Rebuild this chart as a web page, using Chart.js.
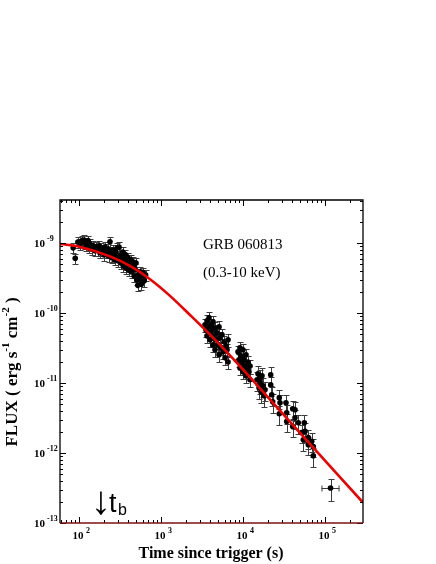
<!DOCTYPE html>
<html>
<head>
<meta charset="utf-8">
<script src="https://cdn.jsdelivr.net/npm/chart.js@4.4.1/dist/chart.umd.min.js"></script>
<style>
  html, body { margin: 0; padding: 0; background: #fff; }
  canvas { display: block; }
</style>
</head>
<body>
<canvas id="lc" width="436" height="564"></canvas>
<script>
// early steep-ish plateau (s, erg s^-1 cm^-2)
const earlyTime = [85, 90, 97, 103, 109, 115, 118, 122, 129, 132, 136, 144, 148, 157, 161,
  170, 175, 180, 186, 196, 202, 208, 214, 226, 232, 239, 245, 252, 258, 265, 272, 279, 286,
  293, 300, 308, 316, 324, 332, 340, 349, 358, 367, 376, 386, 396, 406, 416, 427, 438, 449,
  460, 472, 484, 496, 508, 521, 534, 548, 562, 576, 590, 605, 625, 650];
const earlyFlux = [8.6e-10, 6.1e-10, 10.4e-10, 9.8e-10, 10.9e-10, 11.1e-10, 10.1e-10, 9.2e-10,
  10.9e-10, 8.6e-10, 9.8e-10, 8.3e-10, 9.3e-10, 7.8e-10, 8.9e-10, 8.0e-10, 9.2e-10, 7.3e-10,
  8.6e-10, 8.0e-10, 6.8e-10, 8.9e-10, 7.5e-10, 8.3e-10, 6.6e-10, 10.5e-10, 7.5e-10, 6.2e-10,
  8.0e-10, 6.8e-10, 5.8e-10, 7.5e-10, 6.4e-10, 8.6e-10, 5.6e-10, 8.8e-10, 6.6e-10, 5.2e-10,
  6.2e-10, 7.5e-10, 4.7e-10, 5.8e-10, 6.9e-10, 4.4e-10, 5.4e-10, 6.2e-10, 4.1e-10, 5.0e-10,
  5.8e-10, 3.9e-10, 4.7e-10, 5.4e-10, 3.4e-10, 4.3e-10, 5.2e-10, 3.0e-10, 2.5e-10, 3.6e-10,
  3.1e-10, 3.9e-10, 2.6e-10, 3.4e-10, 3.8e-10, 2.9e-10, 3.5e-10];

// second and third orbit
const midTime = [3441, 3539, 3640, 3640, 3744, 3851, 3961, 3961, 4074, 4190, 4309, 4309, 4432,
  4559, 4559, 4689, 4822, 4960, 5101, 5101, 5247, 5397, 5550, 5709, 5872, 6039, 6211, 6388,
  6571, 6571,
  8690, 8937, 9192, 9192, 9454, 9723, 10000, 10000, 10285, 10578, 10880, 10880, 11190, 11509,
  11837, 12174, 12174];
const midFlux = [6.81e-11, 5.77e-11, 7.77e-11, 4.74e-11, 6.37e-11, 8.57e-11, 5.23e-11, 4.16e-11,
  6.81e-11, 5.77e-11, 7.52e-11, 3.52e-11, 4.74e-11, 6.17e-11, 2.99e-11, 4.16e-11, 5.23e-11,
  3.52e-11, 6.37e-11, 2.54e-11, 4.44e-11, 3.19e-11, 4.90e-11, 2.80e-11, 3.89e-11, 2.30e-11,
  3.41e-11, 2.99e-11, 2.01e-11, 4.16e-11,
  2.80e-11, 2.16e-11, 3.19e-11, 1.65e-11, 2.46e-11, 1.95e-11, 2.99e-11, 1.45e-11, 2.16e-11,
  1.76e-11, 2.54e-11, 1.27e-11, 1.65e-11, 2.01e-11, 1.45e-11, 1.12e-11, 1.76e-11];

// late decay
const lateTime = [14818, 15240, 15675, 16122, 16122, 16582, 17055, 17541, 18041, 18556, 21770,
  21770, 22390, 23030, 27720, 28270, 27720, 33440, 34100, 34100, 40380, 43070, 43070, 40380,
  47250, 51980, 55910, 57030, 54360, 62570, 62570, 68830, 71990, 71990];
const lateFlux = [1.12e-11, 1.36e-11, 8.57e-12, 1.19e-11, 1.01e-11, 7.51e-12, 1.27e-11, 9.15e-12,
  6.59e-12, 8.02e-12, 1.32e-11, 9.46e-12, 6.81e-12, 5.41e-12, 6.17e-12, 5.23e-12, 3.64e-12,
  5.23e-12, 3.77e-12, 2.83e-12, 4.30e-12, 4.16e-12, 3.19e-12, 2.40e-12, 2.71e-12, 1.97e-12,
  2.71e-12, 2.04e-12, 1.55e-12, 1.66e-12, 1.32e-12, 1.47e-12, 1.24e-12, 9.15e-13];

// last binned point with its time range
const lastTime = [116700];
const lastFlux = [3.16e-13];
const lastTimeRange = [90600, 150300];

// relative flux errors: early, mid, late, last
const errFrac = [0.17, 0.22, 0.3, 0.35];

// broken power-law fit
const fitTime = [58.7, 103, 239, 419, 735, 1288, 2260, 3963, 6936, 16100, 49500, 290600];
const fitFlux = [9.77e-10, 8.87e-10, 6.5e-10, 4.74e-10, 3.06e-10, 1.77e-10, 9.42e-11, 4.93e-11,
  2.49e-11, 8.41e-12, 1.95e-12, 1.96e-13];

const xTickExp = [2, 3, 4, 5];
const yTickExp = [-13, -12, -11, -10, -9];

const pts = (ts, fs, e) => ts.map((t, i) => ({ x: t, y: fs[i], e }));
const points = [
  ...pts(earlyTime, earlyFlux, errFrac[0]),
  ...pts(midTime, midFlux, errFrac[1]),
  ...pts(lateTime, lateFlux, errFrac[2]),
  { x: lastTime[0], y: lastFlux[0], e: errFrac[3], xlo: lastTimeRange[0], xhi: lastTimeRange[1] },
];
const fit = fitTime.map((t, i) => ({ x: t, y: fitFlux[i] }));

const SERIF = '"Liberation Serif", "Times New Roman", serif';
const SANS = '"Liberation Sans", Arial, sans-serif';

const errorBars = {
  id: "errorBars",
  beforeDatasetsDraw(chart) {
    const { ctx, scales: { x, y } } = chart;
    ctx.save();
    ctx.strokeStyle = "#3c3c3c";
    ctx.lineWidth = 1;
    ctx.beginPath();
    points.forEach((p) => {
      const px = Math.round(x.getPixelForValue(p.x)) + 0.5;
      const py = y.getPixelForValue(p.y);
      const top = Math.round(y.getPixelForValue(p.y * (1 + p.e))) + 0.5;
      const bot = Math.round(y.getPixelForValue(p.y * (1 - p.e))) + 0.5;
      ctx.moveTo(px, top); ctx.lineTo(px, bot);
      ctx.moveTo(px - 3, top); ctx.lineTo(px + 3, top);
      ctx.moveTo(px - 3, bot); ctx.lineTo(px + 3, bot);
      if (p.xlo) {
        const l = x.getPixelForValue(p.xlo), r = x.getPixelForValue(p.xhi);
        const yy = Math.round(py) + 0.5;
        ctx.moveTo(l, yy); ctx.lineTo(r, yy);
        ctx.moveTo(l + 0.5, yy - 3); ctx.lineTo(l + 0.5, yy + 3);
        ctx.moveTo(r - 0.5, yy - 3); ctx.lineTo(r - 0.5, yy + 3);
      }
    });
    ctx.stroke();
    ctx.restore();
  },
};

function label10(ctx, cx, cy, exp, axis) {
  ctx.textBaseline = "middle";
  if (axis === "x") {
    ctx.font = "bold 11px " + SERIF;
    ctx.textAlign = "center";
    ctx.fillText("10", cx - 1, cy);
    ctx.font = "bold 8px " + SERIF;
    ctx.textAlign = "left";
    ctx.fillText(String(exp), cx + 7, cy - 6);
  } else {
    ctx.font = "bold 11px " + SERIF;
    ctx.textAlign = "right";
    ctx.fillText("10", cx - 15, cy + 1);
    ctx.font = "bold 8px " + SERIF;
    ctx.textAlign = "left";
    ctx.fillText(String(exp), cx - 13, cy - 4);
  }
}

const frame = {
  id: "frame",
  afterDraw(chart) {
    const { ctx, chartArea: a, scales: { x, y } } = chart;
    ctx.save();

    // ticks on all four sides, pointing inward
    ctx.strokeStyle = "#000";
    ctx.lineWidth = 1;
    ctx.beginPath();
    for (let d = 1; d <= 5; d++) {
      for (let m = 1; m <= 9; m++) {
        const v = m * Math.pow(10, d);
        if (v < x.min || v > x.max) continue;
        const px = Math.round(x.getPixelForValue(v)) + 0.5;
        const len = m === 1 ? 6 : 3;
        ctx.moveTo(px, a.bottom); ctx.lineTo(px, a.bottom - len);
        ctx.moveTo(px, a.top); ctx.lineTo(px, a.top + len);
      }
    }
    for (let d = -13; d <= -9; d++) {
      for (let m = 1; m <= 9; m++) {
        const v = m * Math.pow(10, d);
        if (v < y.min * 0.999 || v > y.max) continue;
        const py = Math.round(y.getPixelForValue(v)) + 0.5;
        const len = m === 1 ? 6 : 3;
        ctx.moveTo(a.left, py); ctx.lineTo(a.left + len, py);
        ctx.moveTo(a.right, py); ctx.lineTo(a.right - len, py);
      }
    }
    ctx.stroke();

    // box
    ctx.lineWidth = 1.3;
    ctx.strokeStyle = "#000";
    ctx.beginPath();
    ctx.moveTo(a.left, a.bottom); ctx.lineTo(a.left, a.top);
    ctx.lineTo(a.right, a.top); ctx.lineTo(a.right, a.bottom);
    ctx.stroke();
    ctx.strokeStyle = "#7a1010";
    ctx.beginPath();
    ctx.moveTo(a.left, a.bottom); ctx.lineTo(a.right, a.bottom);
    ctx.stroke();

    // tick labels
    ctx.fillStyle = "#000";
    xTickExp.forEach((e) => label10(ctx, x.getPixelForValue(Math.pow(10, e)), a.bottom + 13.5, e, "x"));
    yTickExp.forEach((e) => label10(ctx, a.left, y.getPixelForValue(Math.pow(10, e)), e, "y"));

    // axis titles
    ctx.font = "bold 16px " + SERIF;
    ctx.textAlign = "center";
    ctx.textBaseline = "alphabetic";
    ctx.fillText("Time since trigger (s)", 211, 558);

    ctx.translate(17, 372);
    ctx.rotate(-Math.PI / 2);
    const parts = [["FLUX ( erg s", 0], ["-1", 1], [" cm", 0], ["-2", 1], [" )", 0]];
    const fontFor = (sup) => (sup ? "bold 11px " : "bold 17px ") + SERIF;
    let total = 0;
    parts.forEach(([t, s]) => { ctx.font = fontFor(s); total += ctx.measureText(t).width; });
    let cx = -total / 2;
    ctx.textAlign = "left";
    parts.forEach(([t, s]) => {
      ctx.font = fontFor(s);
      ctx.fillText(t, cx, s ? -8 : 0);
      cx += ctx.measureText(t).width;
    });
    ctx.setTransform(1, 0, 0, 1, 0, 0);

    // annotations
    ctx.font = "15px " + SERIF;
    ctx.textAlign = "left";
    ctx.fillText("GRB 060813", 203, 249);
    ctx.fillText("(0.3-10 keV)", 203, 277);

    ctx.font = "40px " + SANS;
    ctx.fillText("\u2193", 91, 514);
    ctx.font = "27px " + SANS;
    ctx.fillText("t", 109, 512);
    ctx.font = "16px " + SANS;
    ctx.fillText("b", 118, 515);

    ctx.restore();
  },
};

new Chart(document.getElementById("lc"), {
  type: "scatter",
  data: {
    datasets: [
      {
        data: points,
        pointRadius: 2.8,
        pointBackgroundColor: "#000",
        pointBorderColor: "#000",
        pointBorderWidth: 0,
        showLine: false,
        order: 1,
      },
      {
        type: "line",
        data: fit,
        borderColor: "#ee0000",
        borderWidth: 2.6,
        pointRadius: 0,
        fill: false,
        cubicInterpolationMode: "monotone",
        order: 0,
      },
    ],
  },
  options: {
    responsive: false,
    animation: false,
    devicePixelRatio: 1,
    layout: { padding: { left: 60, top: 200, right: 73, bottom: 41 } },
    scales: {
      x: { type: "logarithmic", min: 58.7, max: 290600, display: false },
      y: { type: "logarithmic", min: 1e-13, max: 4.155e-9, display: false },
    },
    plugins: { legend: { display: false }, tooltip: { enabled: false } },
  },
  plugins: [errorBars, frame],
});
</script>
</body>
</html>
